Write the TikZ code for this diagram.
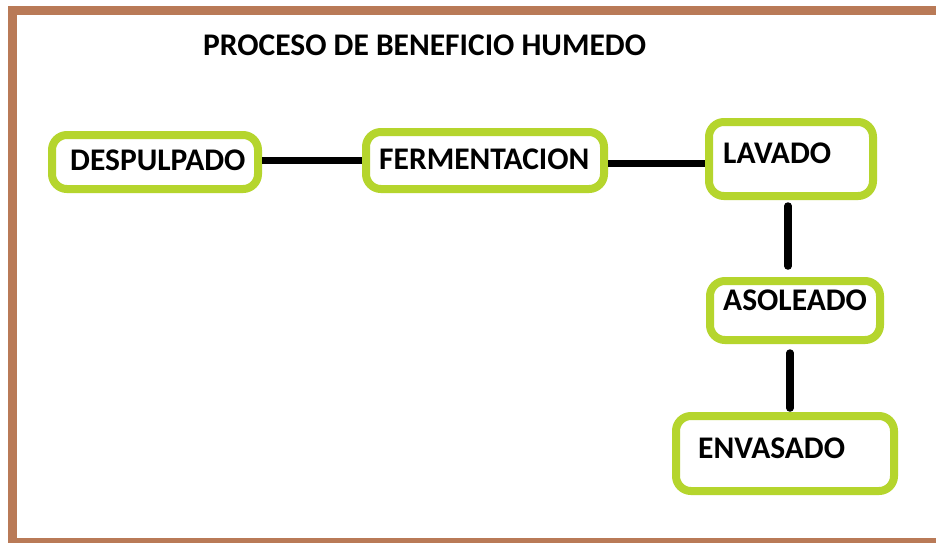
\documentclass[tikz,border=0pt]{standalone}
\usepackage{fontspec}
\setmainfont{Carlito}
\definecolor{framebrown}{RGB}{185,122,87}
\definecolor{boxgreen}{RGB}{181,213,45}
\begin{document}
\begin{tikzpicture}[x=1pt,y=-1pt,
  stepbox/.style={draw=boxgreen,line width=8pt,rounded corners=15pt,inner sep=0pt},
  lbl/.style={anchor=west,inner sep=0pt,font=\fontsize{31.5}{36}\selectfont\bfseries},
  link/.style={line width=7.5pt,black}]
\useasboundingbox (0,0) rectangle (936,542);
\fill[white] (0,0) rectangle (936,542);
\draw[framebrown,line width=9pt] (945,10.5) -- (12.5,10.5) -- (12.5,542) -- (945,542);
\node[lbl] (title) at (203,45) {PROCESO DE BENEFICIO HUMEDO};
% boxes
\node[stepbox,minimum width=206pt,minimum height=54pt] (d) at (155,162) {};
\node[stepbox,minimum width=238pt,minimum height=57pt] (f) at (485,160.5) {};
\node[stepbox,minimum width=164pt,minimum height=74pt] (l) at (791,159) {};
\node[stepbox,minimum width=170pt,minimum height=59pt] (a) at (795,310.5) {};
\node[stepbox,minimum width=218pt,minimum height=75pt] (e) at (785,453.5) {};
% labels
\node[lbl] (dt) at (70,160) {DESPULPADO};
\node[lbl] (ft) at (379,159) {FERMENTACION};
\node[lbl] (lt) at (723,153) {LAVADO};
\node[lbl] (at) at (723,300) {ASOLEADO};
\node[lbl] (et) at (698,448) {ENVASADO};
% connectors
\draw[link] (f.west -| d.east) -- (f.west);
\draw[link] ([yshift=-3pt]f.east) -- ([yshift=-3pt]f.east -| l.west);
\draw[link,line cap=round,shorten <=6pt,shorten >=11pt] ([xshift=-3pt]l.south) -- ([xshift=-3pt]l.south |- a.north);
\draw[link,line cap=round,shorten <=9pt,shorten >=4pt] ([xshift=-5pt]a.south) -- ([xshift=-5pt]a.south |- e.north);
\end{tikzpicture}
\end{document}
